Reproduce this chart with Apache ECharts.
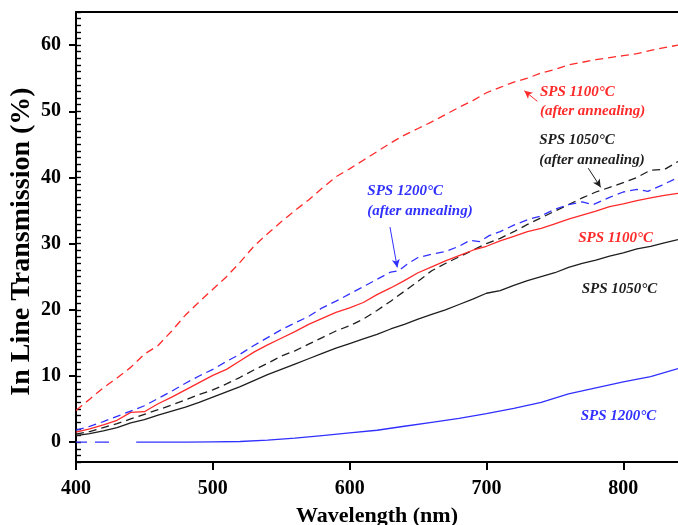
<!DOCTYPE html>
<html>
<head>
<meta charset="utf-8">
<script src="https://cdn.jsdelivr.net/npm/echarts@6/dist/echarts.min.js"></script>
<style>
  html, body { margin: 0; padding: 0; background: #ffffff; }
  #chart { width: 678px; height: 525px; }
</style>
</head>
<body>
<div id="chart"></div>
<script>
// Shared wavelength grid (nm) for the four main spectra
const wavelength = [400, 410, 420, 430, 440, 450, 460, 470, 480, 490, 500, 510, 520, 530, 540,
  550, 560, 570, 580, 590, 600, 610, 620, 630, 640, 650, 660, 670, 680, 690, 700, 710, 720, 730,
  740, 750, 760, 770, 780, 790, 800, 810, 820, 830, 840];

// In-line transmission (%)
const sps1100Annealed = [4.8, 6.5, 8.2, 9.7, 11.3, 13.3, 14.6, 16.8, 19.2, 21.2, 23.1, 25.0, 27.2, 29.6, 31.5,
  33.3, 35.0, 36.6, 38.4, 40.1, 41.3, 42.6, 43.9, 45.2, 46.4, 47.4, 48.4, 49.5, 50.6, 51.6, 52.8, 53.6, 54.4, 55.0,
  55.8, 56.3, 57.0, 57.4, 57.8, 58.1, 58.4, 58.7, 59.2, 59.6, 60.0];
const sps1100 = [1.5, 2.0, 2.6, 3.3, 4.5, 4.6, 5.8, 6.8, 7.9, 9.0, 10.1, 11.0, 12.3, 13.6, 14.7,
  15.7, 16.7, 17.8, 18.7, 19.6, 20.3, 21.1, 22.3, 23.3, 24.4, 25.6, 26.5, 27.4, 28.2, 29.0, 29.6, 30.4, 31.1, 31.8,
  32.3, 33.0, 33.7, 34.3, 34.9, 35.6, 36.0, 36.5, 36.9, 37.3, 37.6];
const sps1050Annealed = [1.2, 1.6, 2.2, 2.8, 3.5, 4.2, 4.9, 5.6, 6.4, 7.2, 7.9, 8.8, 9.8, 10.9, 11.9,
  13.0, 13.8, 14.8, 15.8, 16.8, 17.6, 18.6, 19.9, 21.3, 22.8, 24.3, 25.9, 27.0, 28.0, 29.0, 30.0, 30.8, 31.8, 32.9,
  33.9, 34.9, 35.9, 36.9, 37.8, 38.5, 39.2, 40.0, 41.1, 41.2, 42.4];
const sps1050 = [1.0, 1.3, 1.7, 2.2, 2.9, 3.4, 4.1, 4.7, 5.3, 6.0, 6.8, 7.6, 8.4, 9.3, 10.2,
  11.0, 11.8, 12.6, 13.4, 14.2, 14.9, 15.6, 16.3, 17.1, 17.8, 18.6, 19.3, 20.0, 20.8, 21.6, 22.5, 22.9, 23.7, 24.4,
  25.0, 25.6, 26.4, 27.0, 27.5, 28.1, 28.6, 29.2, 29.6, 30.1, 30.6];

// SPS 1200 °C after annealing (own sampling, keeps the small dips)
const sps1200AnnealedX = [400, 410, 420, 430, 440, 450, 460, 470, 480, 490, 500, 510, 520, 530, 540, 550,
  560, 570, 580, 590, 600, 610, 620, 630, 636, 642, 650, 660, 670, 680, 688, 695, 702, 710, 720, 730, 740,
  750, 760, 770, 778, 790, 800, 810, 818, 828, 840];
const sps1200Annealed = [1.8, 2.4, 3.1, 3.9, 4.7, 5.5, 6.6, 7.7, 8.9, 10.0, 11.0, 12.2, 13.3, 14.6, 15.8, 17.0,
  18.0, 19.0, 20.3, 21.3, 22.4, 23.5, 24.6, 25.7, 25.9, 26.9, 27.9, 28.4, 28.8, 29.6, 30.5, 30.3, 31.2, 31.8, 32.8, 33.6, 34.2,
  35.2, 35.9, 36.3, 35.9, 37.0, 37.8, 38.2, 37.9, 38.8, 40.0];

// SPS 1200 °C (as sintered): broken lead-in at zero, then the measured curve
const sps1200LeadX = [400, 430];
const sps1200Lead = [0, 0];
const sps1200X = [444, 460, 480, 500, 520, 540, 560, 580, 600, 620, 640, 660, 680, 700, 720, 740, 760, 780, 800, 820, 840];
const sps1200 = [0.0, 0.0, 0.0, 0.05, 0.1, 0.3, 0.6, 1.0, 1.4, 1.8, 2.4, 3.0, 3.6, 4.3, 5.1, 6.0, 7.3, 8.2, 9.1, 9.9, 11.1];

// Tick labels
const xTicks = [400, 500, 600, 700, 800];
const yTicks = [0, 10, 20, 30, 40, 50, 60];

const RED = '#ff2a2a';
const BLUE = '#3030ff';
const BLACK = '#1e1e1e';
const SERIF = '"Liberation Serif", "Times New Roman", serif';

function pairs(xs, ys) {
  return xs.map((x, i) => [x, ys[i]]);
}

function arrow(from, to, color) {
  return {
    silent: true,
    symbol: ['none', 'arrow'],
    symbolSize: [6, 8],
    label: { show: false },
    lineStyle: { color: color, width: 1, type: 'solid' },
    emphasis: { disabled: true },
    data: [[{ coord: from }, { coord: to }]]
  };
}

function line(name, data, color, dashed, extra) {
  return Object.assign({
    name: name,
    type: 'line',
    data: data,
    symbol: 'none',
    showSymbol: false,
    smooth: false,
    lineStyle: { color: color, width: 1.3, type: dashed ? [8, 5] : 'solid' },
    itemStyle: { color: color },
    emphasis: { disabled: true }
  }, extra || {});
}

const chart = echarts.init(document.getElementById('chart'), null, { renderer: 'canvas' });

const labelFont = { fontFamily: SERIF, fontWeight: 'bold', fontSize: 20, color: '#000' };

chart.setOption({
  animation: false,
  backgroundColor: '#ffffff',
  grid: { left: 76, right: 0, top: 12, bottom: 63, containLabel: false, outerBoundsMode: 'none' },
  xAxis: [{
    type: 'value', min: 400, max: 840, position: 'bottom',
    name: 'Wavelength (nm)', nameLocation: 'middle', nameGap: 43, nameMoveOverlap: false,
    nameTextStyle: { fontFamily: SERIF, fontWeight: 'bold', fontSize: 22, color: '#000' },
    axisLine: { onZero: false, lineStyle: { color: '#000', width: 2 } },
    axisTick: { show: true, customValues: xTicks, length: 8, lineStyle: { color: '#000', width: 2 } },
    axisLabel: Object.assign({ customValues: xTicks, margin: 17 }, labelFont),
    splitLine: { show: false }
  }, {
    type: 'value', min: 400, max: 840, position: 'top',
    axisLine: { onZero: false, lineStyle: { color: '#000', width: 2 } },
    axisTick: { show: false }, axisLabel: { show: false }, splitLine: { show: false }
  }],
  yAxis: [{
    type: 'value', min: -3, max: 65, position: 'left',
    name: 'In Line Transmission (%)', nameLocation: 'middle', nameGap: 40, nameRotate: 90, nameMoveOverlap: false,
    nameTextStyle: { fontFamily: SERIF, fontWeight: 'bold', fontSize: 28, color: '#000', padding: [0, 9, 0, 0] },
    axisLine: { show: true, onZero: false, lineStyle: { color: '#000', width: 2 } },
    axisTick: { show: true, customValues: yTicks, length: 7, lineStyle: { color: '#000', width: 2 } },
    axisLabel: Object.assign({ customValues: yTicks, margin: 15 }, labelFont),
    splitLine: { show: false }
  }, {
    // unit minor ticks drawn inside the plot
    type: 'value', min: -3, max: 65, interval: 1, position: 'left',
    axisLine: { show: false, onZero: false },
    axisTick: { show: true, inside: true, length: 5, lineStyle: { color: '#000', width: 1.4 } },
    axisLabel: { show: false },
    splitLine: { show: false }
  }],
  series: [
    line('SPS 1050°C', pairs(wavelength, sps1050), BLACK, false),
    line('SPS 1050°C (after annealing)', pairs(wavelength, sps1050Annealed), BLACK, true,
      { markLine: arrow([774.4, 41.4], [783.5, 38.5], BLACK) }),
    line('SPS 1100°C', pairs(wavelength, sps1100), RED, false),
    line('SPS 1100°C (after annealing)', pairs(wavelength, sps1100Annealed), RED, true,
      { markLine: arrow([737.2, 51.5], [727.7, 53.1], RED) }),
    line('SPS 1200°C lead', pairs(sps1200LeadX, sps1200Lead), BLUE, false,
      { lineStyle: { color: BLUE, width: 1.3, type: [11, 8, 14, 8] } }),
    line('SPS 1200°C', pairs(sps1200X, sps1200), BLUE, false),
    line('SPS 1200°C (after annealing)', pairs(sps1200AnnealedX, sps1200Annealed), BLUE, true,
      { markLine: arrow([629.5, 32.5], [634.8, 26.4], BLUE) })
  ]
});

// Curve labels, anchored in data coordinates (left edge, middle of first line)
const notes = [
  { at: [739.1, 52.9], lines: ['SPS 1100°C', '(after annealing)'], color: RED },
  { at: [738.6, 45.6], lines: ['SPS 1050°C', '(after annealing)'], color: BLACK },
  { at: [612.9, 37.9], lines: ['SPS 1200°C', '(after annealing)'], color: BLUE },
  { at: [767.1, 30.8], lines: ['SPS 1100°C'], color: RED },
  { at: [769.6, 23.1], lines: ['SPS 1050°C'], color: BLACK },
  { at: [768.9, 3.9], lines: ['SPS 1200°C'], color: BLUE }
];

const graphics = [];
notes.forEach(n => {
  const p = chart.convertToPixel({ gridIndex: 0 }, n.at);
  n.lines.forEach((t, i) => {
    graphics.push({
      type: 'text',
      silent: true,
      z: 10,
      style: {
        text: t,
        x: p[0],
        y: p[1] + i * 19.5,
        fill: n.color,
        fontFamily: SERIF,
        fontWeight: 'bold',
        fontStyle: 'italic',
        fontSize: 15,
        align: 'left',
        verticalAlign: 'middle'
      }
    });
  });
});
chart.setOption({ graphic: graphics });
</script>
</body>
</html>
